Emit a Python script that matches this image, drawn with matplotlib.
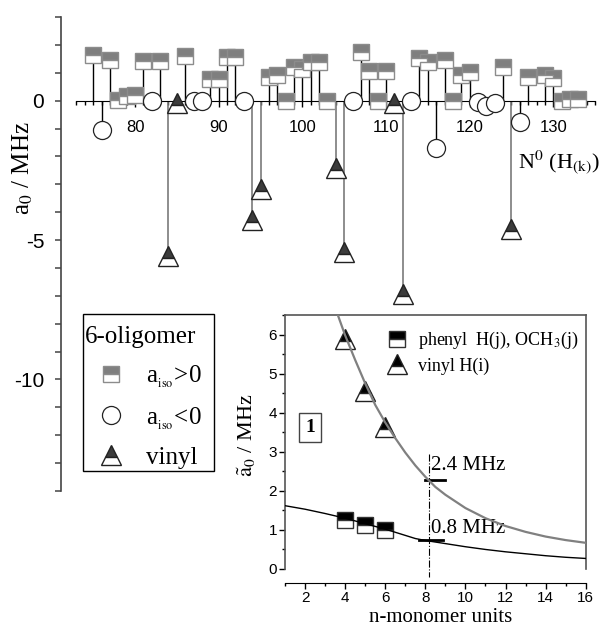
import matplotlib
matplotlib.use('Agg')
import matplotlib.pyplot as plt
from matplotlib.lines import Line2D
from matplotlib.patches import Rectangle
from matplotlib.ticker import FixedLocator, MultipleLocator

plt.rcParams['font.family'] = ['Liberation Sans', 'DejaVu Sans']
plt.rcParams['mathtext.fontset'] = 'stix'
plt.rcParams['axes.unicode_minus'] = False
SERIF = ['Liberation Serif', 'DejaVu Serif']

# 6-oligomer couplings a0 (MHz) per proton number N0(H(k))
pos_n = [75, 77, 78, 79, 80, 81, 83, 86, 89, 90, 91, 92, 96, 97, 98, 99, 100, 101, 102,
         103, 107, 108, 109, 110, 114, 115, 117, 118, 119, 120, 124, 127, 129, 130,
         131, 132, 133]
pos_a = [1.64, 1.47, 0.02, 0.18, 0.2, 1.43, 1.43, 1.6, 0.78, 0.78, 1.57, 1.57, 0.85, 0.92,
         0.0, 1.2, 1.12, 1.39, 1.39, 0.0, 1.73, 1.07, 0.0, 1.07, 1.52, 1.38, 1.45, 0.0,
         0.92, 1.04, 1.2, 0.86, 0.91, 0.82, 0.0, 0.07, 0.07]
neg_n = [76, 82, 87, 88, 93, 106, 113, 116, 121, 122, 123, 126]
neg_a = [-1.04, -0.02, -0.02, 0.0, -0.02, -0.02, -0.02, -1.7, -0.05, -0.18, -0.1, -0.77]
vin_n = [84, 85, 94, 95, 104, 105, 111, 112, 125]
vin_a = [-5.56, -0.08, -4.28, -3.17, -2.42, -5.44, -0.08, -6.92, -4.62]

# inset: a0 vs number of monomer units
units = [4, 5, 6]
phenyl_a = [1.25, 1.12, 0.99]
vinyl_a = [5.88, 4.55, 3.64]
fit_vin_n = [3.6, 4, 4.5, 5, 5.5, 6, 6.5, 7, 7.5, 8, 8.5, 9, 10, 11, 12, 13, 14, 15, 16]
fit_vin_a = [6.55, 5.98, 5.35, 4.75, 4.2, 3.75, 3.35, 2.98, 2.65, 2.36, 2.1, 1.9, 1.56,
             1.3, 1.1, 0.95, 0.83, 0.74, 0.67]
fit_ph_n = [1, 2, 3, 4, 5, 6, 7, 7.5, 8, 9, 10, 11, 12, 13, 14, 15, 16]
fit_ph_a = [1.62, 1.53, 1.42, 1.3, 1.16, 1.02, 0.86, 0.78, 0.73, 0.65, 0.57, 0.5, 0.44,
            0.39, 0.34, 0.3, 0.27]
n_oct = 8.17
oct_span = [2.95, -0.2]
vin_mark_n = [8.0, 9.0]
vin_mark_a = 2.27
ph_mark_n = [7.7, 8.9]
ph_mark_a = 0.73

fig = plt.figure(figsize=(6.03, 6.26), dpi=100)
ax = fig.add_axes([61/603, 1-491/626, 542/603, 474/626])

ax.vlines(pos_n, 0, pos_a, color='black', lw=1, zorder=2)
ax.vlines(neg_n, 0, neg_a, color='black', lw=1, zorder=2)
ax.vlines(vin_n, 0, vin_a, color='#7a7a7a', lw=1.2, zorder=2)

sq_style = dict(ls='none', marker='s', ms=11, fillstyle='top', mfc='#7f7f7f',
                mfcalt='white', mec='#8c8c8c', mew=1)
ci_style = dict(ls='none', marker='o', ms=13, mfc='white', mec='#222222', mew=0.9)
tr_style = dict(ls='none', marker='^', ms=15, fillstyle='top', mfc='#3c3c3c',
                mfcalt='white', mec='#222222', mew=1)
ax.plot(pos_n, pos_a, zorder=3, **sq_style)
ax.plot(vin_n, vin_a, zorder=4, **tr_style)
ax.plot(neg_n, neg_a, zorder=5, **ci_style)

ax.set_xlim(71.15, 135.94)
ax.set_ylim(-14, 3)
ax.spines['top'].set_visible(False)
ax.spines['right'].set_visible(False)
ax.spines['bottom'].set_position(('data', 0))
ax.spines['bottom'].set_bounds(73, 135)
ax.spines['left'].set_color('#444444')
ax.spines['left'].set_linewidth(1.2)

ax.xaxis.set_major_locator(FixedLocator([80, 90, 100, 110, 120, 130]))
ax.xaxis.set_minor_locator(FixedLocator(range(73, 136)))
ax.tick_params(axis='x', which='major', direction='out', length=4, width=1,
               pad=10, labelsize=12)
ax.tick_params(axis='x', which='minor', direction='out', length=3, width=1)
ax.yaxis.set_major_locator(FixedLocator([-10, -5, 0]))
ax.yaxis.set_minor_locator(FixedLocator(range(-14, 4)))
ax.tick_params(axis='y', which='both', direction='out', length=4, width=1.1,
               color='#444444')
ax.tick_params(axis='y', which='major', labelsize=15, pad=8)

fig.text(23/603, 1-168/626, r'a$_0$ / MHz', rotation=90, ha='center', va='center',
         fontsize=18, family=SERIF)
fig.text(518/603, 1-162/626, r'N$^0$ (H$_{\rm (k)}$)', ha='left', va='center',
         fontsize=16, family=SERIF)

handles = [Line2D([], [], **sq_style), Line2D([], [], **ci_style), Line2D([], [], **tr_style)]
leg = ax.legend(handles, [r'a$_{_{\rm iso}}$>0', r'a$_{_{\rm iso}}$<0', 'vinyl'],
                title='6-oligomer', loc='upper left',
                bbox_to_anchor=(80/603, 1-321.5/626), bbox_transform=fig.transFigure,
                prop={'family': SERIF, 'size': 18},
                title_fontproperties={'family': SERIF, 'size': 18},
                alignment='left', frameon=False, borderpad=0.2, handlelength=2.1,
                handletextpad=0.35, labelspacing=0.6, borderaxespad=0)
fig.patches.append(Rectangle((83/603, 1-471/626), 131/603, 157/626, transform=fig.transFigure,
                             fill=False, ec='black', lw=1, zorder=10))

# inset
axi = fig.add_axes([285/603, 1-569/626, 300.7/603, 254/626])
axi.set_xlim(1, 16)
axi.set_ylim(0, 6.5)
axi.spines['bottom'].set_position(('outward', 10))
for s in ['left', 'top', 'right']:
    axi.spines[s].set_color('#555555')
    axi.spines[s].set_linewidth(1.2)

axi.plot(fit_vin_n, fit_vin_a, color='#808080', lw=1.6, zorder=4)
axi.plot(fit_ph_n, fit_ph_a, color='black', lw=1, zorder=4)

ph_style = dict(ls='none', marker='s', ms=11, fillstyle='top', mfc='black',
                mfcalt='white', mec='#333333', mew=1)
vi_style = dict(ls='none', marker='^', ms=15, fillstyle='top', mfc='black',
                mfcalt='white', mec='#222222', mew=1)
axi.plot(units, phenyl_a, zorder=3, **ph_style)
axi.plot(units, vinyl_a, zorder=3, **vi_style)

axi.plot([n_oct, n_oct], oct_span, ls='-.', color='black', lw=0.8, clip_on=False)
axi.plot(vin_mark_n, [vin_mark_a, vin_mark_a], color='black', lw=2)
axi.plot(ph_mark_n, [ph_mark_a, ph_mark_a], color='black', lw=2)
axi.text(8.3, 2.64, '2.4 MHz', va='center', ha='left', fontsize=15, family=SERIF)
axi.text(8.3, 1.04, '0.8 MHz', va='center', ha='left', fontsize=15, family=SERIF)
axi.text(2.24, 3.62, '1', ha='center', va='center', fontsize=14, fontweight='bold',
         family=SERIF, bbox=dict(boxstyle='square,pad=0.3', fc='white', ec='#444444', lw=1))

axi.legend([Line2D([], [], **ph_style), Line2D([], [], **vi_style)],
           [r'phenyl  H(j), OCH$_3$(j)', 'vinyl H(i)'], loc='upper left',
           bbox_to_anchor=(386/603, 1-330/626), bbox_transform=fig.transFigure,
           frameon=False, prop={'family': SERIF, 'size': 13}, handlelength=1.2,
           handletextpad=0.6, borderpad=0, borderaxespad=0, labelspacing=0.35)

axi.xaxis.set_major_locator(MultipleLocator(2))
axi.xaxis.set_minor_locator(MultipleLocator(1))
axi.yaxis.set_major_locator(MultipleLocator(1))
axi.yaxis.set_minor_locator(MultipleLocator(0.5))
axi.tick_params(which='both', top=False, right=False, direction='out', width=1)
axi.tick_params(which='major', length=4.3, pad=1.5, labelsize=11)
axi.tick_params(which='minor', length=2.5)

fig.text(441/603, 1-618/626, 'n-monomer units', ha='center', va='center',
         fontsize=15, family=SERIF)
fig.text(247/603, 1-435/626, r'$\tilde{\mathrm{a}}_0$ / MHz', rotation=90,
         ha='center', va='center', fontsize=16, family=SERIF)

fig.savefig('out.png', dpi=100)
